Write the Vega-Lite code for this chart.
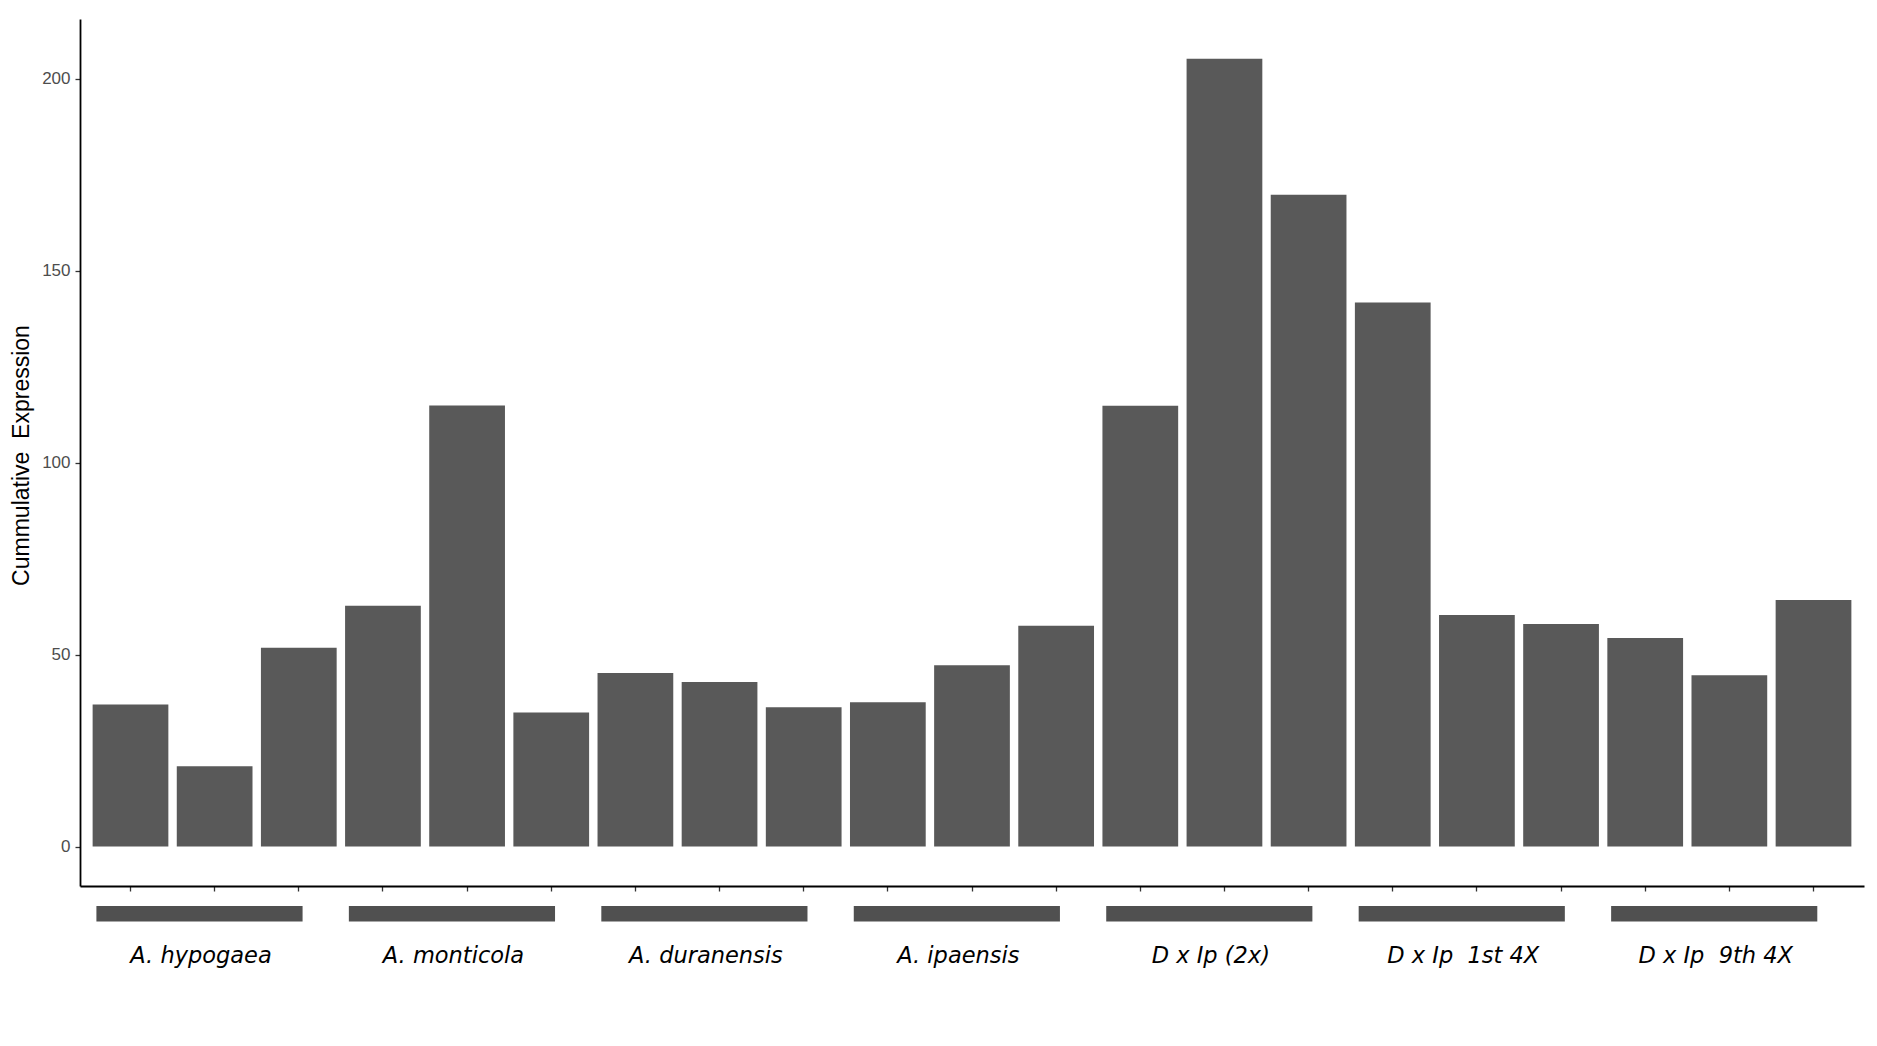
{
  "$schema": "https://vega.github.io/schema/vega-lite/v6.json",
  "autosize": {"type": "none"},
  "padding": {"left": 80, "top": 19, "right": 13, "bottom": 160},
  "width": 1784,
  "height": 867,
  "background": "white",
  "config": {"view": {"stroke": null}},
  "datasets": {
    "bars": [
      {"sample": "s01", "group": "A. hypogaea", "value": 37.0},
      {"sample": "s02", "group": "A. hypogaea", "value": 20.9},
      {"sample": "s03", "group": "A. hypogaea", "value": 51.8},
      {"sample": "s04", "group": "A. monticola", "value": 62.7},
      {"sample": "s05", "group": "A. monticola", "value": 114.9},
      {"sample": "s06", "group": "A. monticola", "value": 34.9},
      {"sample": "s07", "group": "A. duranensis", "value": 45.2},
      {"sample": "s08", "group": "A. duranensis", "value": 42.9},
      {"sample": "s09", "group": "A. duranensis", "value": 36.3},
      {"sample": "s10", "group": "A. ipaensis", "value": 37.6},
      {"sample": "s11", "group": "A. ipaensis", "value": 47.2},
      {"sample": "s12", "group": "A. ipaensis", "value": 57.5},
      {"sample": "s13", "group": "D x Ip (2x)", "value": 114.8},
      {"sample": "s14", "group": "D x Ip (2x)", "value": 205.2},
      {"sample": "s15", "group": "D x Ip (2x)", "value": 169.8},
      {"sample": "s16", "group": "D x Ip 1st 4X", "value": 141.7},
      {"sample": "s17", "group": "D x Ip 1st 4X", "value": 60.3},
      {"sample": "s18", "group": "D x Ip 1st 4X", "value": 58.0},
      {"sample": "s19", "group": "D x Ip 9th 4X", "value": 54.3},
      {"sample": "s20", "group": "D x Ip 9th 4X", "value": 44.6},
      {"sample": "s21", "group": "D x Ip 9th 4X", "value": 64.2}
    ],
    "groups": [
      {"label": "A. hypogaea", "first": "s01", "mid": "s02", "last": "s03"},
      {"label": "A. monticola", "first": "s04", "mid": "s05", "last": "s06"},
      {"label": "A. duranensis", "first": "s07", "mid": "s08", "last": "s09"},
      {"label": "A. ipaensis", "first": "s10", "mid": "s11", "last": "s12"},
      {"label": "D x Ip (2x)", "first": "s13", "mid": "s14", "last": "s15"},
      {"label": "D x Ip \u00a01st 4X", "first": "s16", "mid": "s17", "last": "s18"},
      {"label": "D x Ip \u00a09th 4X", "first": "s19", "mid": "s20", "last": "s21"}
    ]
  },
  "layer": [
    {
      "data": {"name": "bars"},
      "mark": {"type": "bar", "color": "#595959"},
      "encoding": {
        "x": {
          "field": "sample",
          "type": "nominal",
          "sort": null,
          "scale": {
            "domain": ["s01","s02","s03","s04","s05","s06","s07","s08","s09","s10","s11","s12","s13","s14","s15","s16","s17","s18","s19","s20","s21"],
            "paddingInner": 0.1,
            "paddingOuter": 0.15
          },
          "axis": {
            "title": null,
            "labels": false,
            "domainColor": "#000000",
            "domainWidth": 1.8,
            "tickColor": "#333333",
            "tickWidth": 1.3,
            "tickSize": 5,
            "grid": false
          }
        },
        "y": {
          "field": "value",
          "type": "quantitative",
          "scale": {"domain": [-10.27, 215.57], "nice": false, "zero": false},
          "axis": {
            "title": "Cummulative \u00a0Expression",
            "titleFont": "Liberation Sans",
            "titleFontSize": 23,
            "titleFontWeight": "normal",
            "titleColor": "#000000",
            "titleAngle": -90,
            "titleBaseline": "alphabetic",
            "titleAlign": "center",
            "titleX": -52,
            "titleY": 436,
            "values": [0, 50, 100, 150, 200],
            "labelFont": "Liberation Sans",
            "labelFontSize": 17,
            "labelColor": "#4d4d4d",
            "labelPadding": 5,
            "domainColor": "#000000",
            "domainWidth": 1.8,
            "tickColor": "#333333",
            "tickWidth": 1.3,
            "tickSize": 5,
            "grid": false
          }
        }
      }
    },
    {
      "data": {"name": "groups"},
      "mark": {"type": "rect", "color": "#505050"},
      "encoding": {
        "x": {"field": "first", "type": "nominal", "bandPosition": 0.05, "title": null},
        "x2": {"field": "last", "bandPosition": 0.55},
        "y": {"datum": -15.48, "title": null},
        "y2": {"datum": -19.52}
      }
    },
    {
      "data": {"name": "groups"},
      "mark": {
        "type": "text",
        "font": "DejaVu Sans",
        "fontStyle": "italic",
        "fontSize": 22.5,
        "color": "#000000",
        "align": "center",
        "baseline": "alphabetic"
      },
      "encoding": {
        "x": {"field": "mid", "type": "nominal", "bandPosition": 0.32, "title": null},
        "y": {"datum": -30.3, "title": null},
        "text": {"field": "label"}
      }
    }
  ]
}
